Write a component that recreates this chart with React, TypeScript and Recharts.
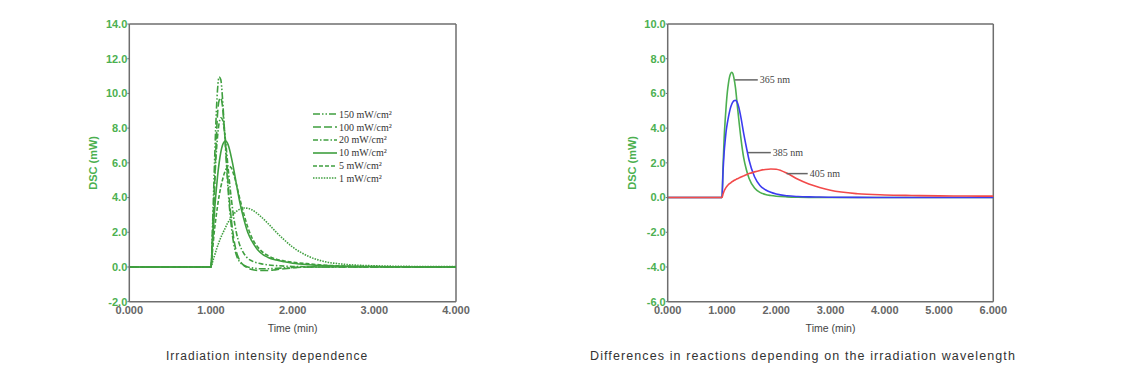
import React from 'react';
import { LineChart, Line, XAxis, YAxis, Legend, ReferenceLine, Label } from 'recharts';

// time axis for the intensity chart (min)
const timesL = [0, 0.5, 0.99, 1.0, 1.02, 1.04, 1.06, 1.08, 1.1, 1.12, 1.14, 1.16, 1.18, 1.2, 1.22, 1.25, 1.28, 1.31, 1.35, 1.4, 1.45, 1.5, 1.6, 1.7, 1.8, 1.9, 2.0, 2.2, 2.4, 2.6, 2.8, 3.0, 3.5, 4.0];
const mw150 = [0, 0, 0, 0, 2.5, 5.5, 8.3, 10.2, 10.95, 10.8, 9.8, 8.3, 6.7, 5.1, 3.8, 2.3, 1.3, 0.7, 0.3, 0.1, 0, -0.05, -0.1, -0.1, -0.08, -0.05, -0.03, 0, 0, 0, 0, 0, 0, 0];
const mw100 = [0, 0, 0, 0, 1.8, 4.2, 6.8, 8.8, 9.6, 9.75, 9.3, 8.2, 6.9, 5.5, 4.2, 2.7, 1.6, 0.9, 0.4, 0.1, -0.05, -0.15, -0.2, -0.2, -0.15, -0.1, -0.05, 0, 0, 0, 0, 0, 0, 0];
const mw20 = [0, 0, 0, 0, 2.0, 4.3, 6.2, 7.5, 8.3, 8.6, 8.5, 8.0, 7.2, 6.2, 5.2, 3.9, 2.8, 2.0, 1.3, 0.8, 0.5, 0.35, 0.2, 0.12, 0.08, 0.05, 0.03, 0.01, 0, 0, 0, 0, 0, 0];
const mw10 = [0, 0, 0, 0, 1.5, 3.0, 4.2, 5.2, 6.0, 6.6, 7.0, 7.2, 7.25, 7.15, 6.9, 6.3, 5.6, 4.8, 3.8, 2.8, 2.0, 1.5, 0.85, 0.55, 0.4, 0.3, 0.22, 0.13, 0.08, 0.05, 0.03, 0.02, 0, 0];
const mw5 = [0, 0, 0, 0, 1.0, 2.0, 2.8, 3.5, 4.1, 4.6, 5.0, 5.35, 5.6, 5.75, 5.8, 5.7, 5.3, 4.8, 4.0, 3.1, 2.3, 1.7, 1.0, 0.65, 0.45, 0.35, 0.28, 0.18, 0.1, 0.06, 0.04, 0.02, 0, 0];
const mw1 = [0, 0, 0, 0, 0.3, 0.6, 0.9, 1.2, 1.45, 1.7, 1.9, 2.1, 2.3, 2.5, 2.65, 2.85, 3.05, 3.2, 3.32, 3.4, 3.38, 3.3, 2.95, 2.5, 2.0, 1.55, 1.15, 0.6, 0.3, 0.17, 0.1, 0.07, 0.03, 0.02];

// time axis for the wavelength chart (min)
const timesR = [0, 0.5, 0.99, 1.0, 1.02, 1.04, 1.06, 1.08, 1.1, 1.12, 1.14, 1.16, 1.18, 1.2, 1.22, 1.25, 1.28, 1.31, 1.35, 1.4, 1.45, 1.5, 1.6, 1.7, 1.8, 1.9, 2.0, 2.2, 2.4, 2.6, 2.8, 3.0, 3.5, 4.0, 4.5, 5.0, 5.5, 6.0];
const nm365 = [0, 0, 0, 0, 1.8, 3.4, 4.5, 5.4, 6.1, 6.6, 6.95, 7.15, 7.22, 7.15, 6.9, 6.3, 5.4, 4.5, 3.4, 2.3, 1.6, 1.1, 0.55, 0.3, 0.18, 0.12, 0.08, 0.04, 0.02, 0.01, 0, 0, 0, 0, 0, 0, 0, 0];
const nm385 = [0, 0, 0, 0, 1.5, 2.6, 3.3, 3.9, 4.3, 4.65, 4.95, 5.2, 5.38, 5.5, 5.58, 5.6, 5.5, 5.2, 4.6, 3.7, 2.9, 2.15, 1.2, 0.7, 0.45, 0.3, 0.2, 0.1, 0.06, 0.04, 0.03, 0.02, 0.01, 0, 0, 0, 0, 0];
const nm405 = [0, 0, 0, 0, 0.2, 0.38, 0.5, 0.6, 0.68, 0.75, 0.8, 0.85, 0.9, 0.94, 0.98, 1.03, 1.08, 1.12, 1.18, 1.25, 1.32, 1.38, 1.48, 1.56, 1.62, 1.65, 1.63, 1.4, 1.05, 0.78, 0.58, 0.42, 0.22, 0.15, 0.12, 0.1, 0.09, 0.08];

const ticksL = [0, 1, 2, 3, 4];
const minorL = [0.5, 1, 1.5, 2, 2.5, 3, 3.5];
const ticksLY = [-2, 0, 2, 4, 6, 8, 10, 12, 14];
const ticksR = [0, 1, 2, 3, 4, 5, 6];
const minorR = [1, 2, 3, 4, 5];
const ticksRY = [-6, -4, -2, 0, 2, 4, 6, 8, 10];

const intensitySeries = [
  { key: 'mw150', name: '150 mW/cm²', values: mw150, dash: '7 2 1.5 2 1.5 2' },
  { key: 'mw100', name: '100 mW/cm²', values: mw100, dash: '8 3' },
  { key: 'mw20', name: '20 mW/cm²', values: mw20, dash: '5 2 1.5 2' },
  { key: 'mw10', name: '10 mW/cm²', values: mw10, dash: undefined },
  { key: 'mw5', name: '5 mW/cm²', values: mw5, dash: '4 2' },
  { key: 'mw1', name: '1 mW/cm²', values: mw1, dash: '1.5 1.2' },
];

const wavelengthSeries = [
  { key: 'nm365', values: nm365, color: '#4caf50' },
  { key: 'nm385', values: nm385, color: '#3c3cf0' },
  { key: 'nm405', values: nm405, color: '#f24a4a' },
];

// leader lines for the wavelength labels: [x1, x2, y, text]
const callouts: [number, number, number, string][] = [
  [1.24, 1.66, 6.78, '365 nm'],
  [1.48, 1.9, 2.59, '385 nm'],
  [2.19, 2.58, 1.38, '405 nm'],
];

const dataL = timesL.map((t, i) => {
  const row: any = { t };
  intensitySeries.forEach(s => { row[s.key] = s.values[i]; });
  return row;
});

const dataR = timesR.map((t, i) => {
  const row: any = { t };
  wavelengthSeries.forEach(s => { row[s.key] = s.values[i]; });
  return row;
});

const GREEN = '#3f9f3f';
const FRAME = '#6e6e6e';
const sans = '"Liberation Sans", Arial, sans-serif';
const serif = '"Liberation Serif", "Times New Roman", serif';

const yTick = { fill: '#4cb050', fontSize: 11, fontWeight: 700, fontFamily: sans };
const xTick = { fill: '#666', fontSize: 11, fontWeight: 700, fontFamily: sans };
const axisLabel = { fill: '#444', fontSize: 10.5, fontFamily: sans };

const IntensityLegend = () => (
  <div style={{ fontFamily: serif, fontSize: 10, color: '#333' }}>
    {intensitySeries.map(s => (
      <div key={s.key} style={{ display: 'flex', alignItems: 'center', height: 12.8 }}>
        <svg width={26} height={6}>
          <line x1={0} y1={3} x2={24} y2={3} stroke={GREEN} strokeWidth={1.6} strokeDasharray={s.dash} />
        </svg>
        <span>{s.name}</span>
      </div>
    ))}
  </div>
);

export default function App() {
  return (
    <div style={{ position: 'absolute', left: 0, top: 0, width: 1140, height: 384, background: '#fff' }}>
      <div style={{ position: 'absolute', left: 0, top: 0 }}>
        <LineChart width={500} height={384} data={dataL} margin={{ top: 24, right: 44, bottom: 52.3, left: 89.3 }}>
          <XAxis dataKey="t" type="number" domain={[0, 4]} ticks={ticksL} tickFormatter={(v: number) => v.toFixed(3)}
            height={30} tick={xTick} tickSize={0} tickMargin={4} axisLine={{ stroke: FRAME, strokeWidth: 1.5 }} tickLine={false}>
            <Label value="Time (min)" position="insideBottom" offset={0} style={axisLabel} />
          </XAxis>
          <XAxis xAxisId="minor" dataKey="t" type="number" domain={[0, 4]} ticks={minorL} height={0} mirror tick={false}
            tickSize={4} axisLine={false} tickLine={{ stroke: '#bbb' }} />
          <YAxis type="number" domain={[-2, 14]} ticks={ticksLY} tickFormatter={(v: number) => v.toFixed(1)} width={40}
            tick={yTick} tickSize={2} tickMargin={0} axisLine={{ stroke: FRAME, strokeWidth: 1.5 }} tickLine={{ stroke: FRAME }}>
            <Label value="DSC (mW)" angle={-90} position="insideLeft" offset={4} style={{ fill: '#4cb050', fontSize: 11, fontWeight: 700, fontFamily: sans, textAnchor: 'middle' }} />
          </YAxis>
          <ReferenceLine y={14} stroke={FRAME} strokeWidth={1.5} />
          <ReferenceLine x={4} stroke={FRAME} strokeWidth={1.5} />
          <Legend layout="vertical" align="center" verticalAlign="middle" content={<IntensityLegend />}
            wrapperStyle={{ position: 'absolute', left: 313, top: 108, width: 'auto' }} />
          {intensitySeries.map(s => (
            <Line key={s.key} dataKey={s.key} name={s.name} type="monotone" stroke={GREEN} strokeWidth={1.6}
              strokeDasharray={s.dash} dot={false} isAnimationActive={false} />
          ))}
        </LineChart>
      </div>

      <div style={{ position: 'absolute', left: 560, top: 0 }}>
        <LineChart width={470} height={384} data={dataR} margin={{ top: 24, right: 36.7, bottom: 52.3, left: 67.7 }}>
          <XAxis dataKey="t" type="number" domain={[0, 6]} ticks={ticksR} tickFormatter={(v: number) => v.toFixed(3)}
            height={30} tick={xTick} tickSize={0} tickMargin={4} axisLine={{ stroke: FRAME, strokeWidth: 1.5 }} tickLine={false}>
            <Label value="Time (min)" position="insideBottom" offset={0} style={axisLabel} />
          </XAxis>
          <XAxis xAxisId="minor" dataKey="t" type="number" domain={[0, 6]} ticks={minorR} height={0} mirror tick={false}
            tickSize={4} axisLine={false} tickLine={{ stroke: '#bbb' }} />
          <YAxis type="number" domain={[-6, 10]} ticks={ticksRY} tickFormatter={(v: number) => v.toFixed(1)} width={40}
            tick={yTick} tickSize={2} tickMargin={0} axisLine={{ stroke: FRAME, strokeWidth: 1.5 }} tickLine={{ stroke: FRAME }}>
            <Label value="DSC (mW)" angle={-90} position="insideLeft" offset={4} style={{ fill: '#4cb050', fontSize: 11, fontWeight: 700, fontFamily: sans, textAnchor: 'middle' }} />
          </YAxis>
          <ReferenceLine y={10} stroke={FRAME} strokeWidth={1.5} />
          <ReferenceLine x={6} stroke={FRAME} strokeWidth={1.5} />
          {wavelengthSeries.map(s => (
            <Line key={s.key} dataKey={s.key} type="monotone" stroke={s.color} strokeWidth={1.6}
              dot={false} isAnimationActive={false} />
          ))}
          {callouts.map(([x1, x2, y, text]) => (
            <ReferenceLine key={text} segment={[{ x: x1, y }, { x: x2, y }]} stroke="#666" strokeWidth={1.5} ifOverflow="visible">
              <Label value={text} position="right" offset={2} style={{ fill: '#444', fontSize: 10, fontFamily: serif }} />
            </ReferenceLine>
          ))}
        </LineChart>
      </div>

      <div style={{ position: 'absolute', left: 166, top: 349, fontFamily: sans, fontSize: 12, letterSpacing: 1.0, color: '#333', whiteSpace: 'nowrap' }}>
        Irradiation intensity dependence
      </div>
      <div style={{ position: 'absolute', left: 590, top: 349, fontFamily: sans, fontSize: 12.5, letterSpacing: 1.1, color: '#333', whiteSpace: 'nowrap' }}>
        Differences in reactions depending on the irradiation wavelength
      </div>
    </div>
  );
}
